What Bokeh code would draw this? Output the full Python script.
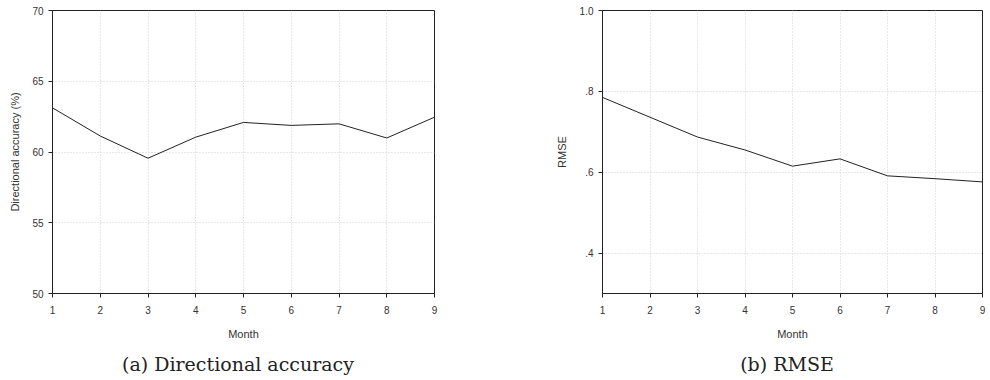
from bokeh.plotting import figure
from bokeh.models import Range1d, FixedTicker, Div, Spacer
from bokeh.layouts import row, column
from bokeh.embed import file_html
from bokeh.resources import INLINE

months = [1, 2, 3, 4, 5, 6, 7, 8, 9]
accuracy = [63.12, 61.13, 59.56, 61.05, 62.09, 61.88, 61.99, 60.99, 62.46]
rmse = [0.785, 0.736, 0.687, 0.655, 0.615, 0.633, 0.591, 0.584, 0.576]

acc_ticks = [50, 55, 60, 65, 70]
rmse_ticks = [0.4, 0.6, 0.8, 1.0]
rmse_tick_labels = {0.4: ".4", 0.6: ".6", 0.8: ".8", 1.0: "1.0"}

captions = ["(a) Directional accuracy", "(b) RMSE"]

SANS = "Liberation Sans"
SERIF = "DejaVu Serif"


def style(p, ylabel, yticks):
    p.xaxis.ticker = FixedTicker(ticks=months)
    p.yaxis.ticker = FixedTicker(ticks=yticks)
    for ax in (p.xaxis[0], p.yaxis[0]):
        ax.axis_line_color = "#222222"
        ax.axis_line_width = 1
        ax.major_tick_line_color = "#222222"
        ax.major_tick_out = 4
        ax.major_tick_in = 0
        ax.minor_tick_line_color = None
        ax.major_label_text_font = SANS
        ax.major_label_text_font_size = "10px"
        ax.major_label_text_color = "#333333"
        ax.axis_label_text_font = SANS
        ax.axis_label_text_font_size = "11px"
        ax.axis_label_text_font_style = "normal"
        ax.axis_label_text_color = "#333333"
    p.xaxis.axis_label = "Month"
    p.xaxis.major_label_standoff = 8
    p.xaxis.axis_label_standoff = 11
    p.yaxis.axis_label = ylabel
    p.yaxis.major_label_standoff = 5
    p.yaxis.axis_label_standoff = 8
    p.grid.grid_line_color = "#d0d0d0"
    p.grid.grid_line_dash = "1 2"
    p.grid.grid_line_width = 1
    p.outline_line_color = "#222222"
    p.outline_line_width = 1
    p.outline_line_alpha = 1


p1 = figure(width=495, height=342, output_backend="svg", toolbar_location=None,
            x_range=Range1d(1, 9), y_range=Range1d(50, 70),
            min_border_left=52, min_border_right=61, min_border_top=10,
            min_border_bottom=48)
p1.line(months, accuracy, line_color="#222222", line_width=1)
style(p1, "Directional accuracy (%)", acc_ticks)

p2 = figure(width=491, height=342, output_backend="svg", toolbar_location=None,
            x_range=Range1d(1, 9), y_range=Range1d(0.3, 1.0),
            min_border_left=107, min_border_right=4, min_border_top=10,
            min_border_bottom=48)
p2.line(months, rmse, line_color="#222222", line_width=1)
style(p2, "RMSE", rmse_ticks)
p2.yaxis.major_label_overrides = rmse_tick_labels
p2.yaxis.axis_label_standoff = 9

cap_style = {"font-family": SERIF, "font-size": "19px", "color": "#222222",
             "text-align": "center", "line-height": "26px",
             "padding-top": "4px", "box-sizing": "border-box"}
div_a = Div(text=captions[0], width=466, height=36, styles=cap_style)
div_b = Div(text=captions[1], width=390, height=36, styles=cap_style)

layout = column(row(p1, p2), row(div_a, Spacer(width=111, height=36), div_b))
open("out.html", "w").write(file_html(layout, INLINE))
